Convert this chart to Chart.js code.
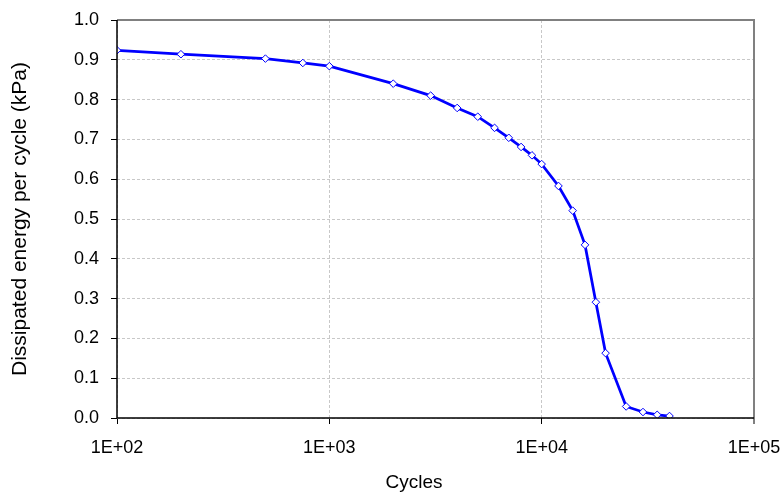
<!DOCTYPE html>
<html>
<head>
<meta charset="utf-8">
<script src="https://cdn.jsdelivr.net/npm/chart.js@4/dist/chart.umd.min.js"></script>
<style>
    html, body { margin: 0; padding: 0; background: #fff; }
    #wrap { width: 784px; height: 495px; }
</style>
</head>
<body>
<div id="wrap"><canvas id="energyChart"></canvas></div>
<script>
// datos
const cycles = [100, 200, 500, 750, 1000, 2000, 3000, 4000, 5000, 6000, 7000, 8000, 9000, 10000,
    12000, 14000, 16000, 18000, 20000, 25000, 30000, 35000, 40000];
const energy = [0.924, 0.914, 0.903, 0.892, 0.884, 0.840, 0.810, 0.779, 0.757, 0.729, 0.704, 0.681, 0.660, 0.638,
    0.583, 0.521, 0.435, 0.291, 0.163, 0.029, 0.015, 0.008, 0.005];
const xTicks = [100, 1000, 10000, 100000];
const yMin = 0, yMax = 1, yStep = 0.1;
const xTitle = 'Cycles';
const yTitle = 'Dissipated energy per cycle (kPa)';

const FONT = "'Liberation Sans', Arial, sans-serif";
const FSIZE = 18;

// marco del area de trazado (gris arriba/derecha, negro izquierda/abajo) y titulo del eje x
const framePlugin = {
    id: 'frame',
    afterDatasetsDraw(chart) {
        const { ctx, chartArea: a } = chart;
        ctx.save();
        ctx.lineWidth = 2;
        ctx.strokeStyle = '#808080';
        ctx.beginPath();
        ctx.moveTo(a.left, a.top);
        ctx.lineTo(a.right, a.top);
        ctx.lineTo(a.right, a.bottom + 6);
        ctx.stroke();
        ctx.lineWidth = 1.5;
        ctx.strokeStyle = '#000';
        ctx.beginPath();
        ctx.moveTo(a.left, a.top);
        ctx.lineTo(a.left, a.bottom);
        ctx.lineTo(a.right, a.bottom);
        ctx.stroke();

        // titulo "Cycles" algo desplazado a la izquierda como en el original
        ctx.fillStyle = '#000';
        ctx.font = '19px ' + FONT;
        ctx.textAlign = 'center';
        ctx.textBaseline = 'middle';
        ctx.fillText(xTitle, 414, 483);
        ctx.restore();
    }
};

const ctx = document.getElementById('energyChart').getContext('2d');

new Chart(ctx, {
    type: 'scatter',
    data: {
        datasets: [{
            label: 'Dissipated energy',
            data: cycles.map((c, i) => ({ x: c, y: energy[i] })),
            showLine: true,
            borderColor: '#0000ff',
            borderWidth: 2.75,
            pointStyle: 'rectRot',
            pointRadius: 3.8,
            pointBackgroundColor: '#ffffff',
            pointBorderColor: '#0000ff',
            pointBorderWidth: 1,
            tension: 0
        }]
    },
    options: {
        responsive: true,
        maintainAspectRatio: false,
        animation: false,
        layout: { padding: { top: 20, right: 30, left: 0, bottom: 0 } },
        plugins: {
            legend: { display: false },
            tooltip: { enabled: false }
        },
        scales: {
            x: {
                type: 'logarithmic',
                min: xTicks[0],
                max: xTicks[xTicks.length - 1],
                afterBuildTicks: function (scale) {
                    scale.ticks = xTicks.map(v => ({ value: v }));
                },
                afterFit: function (scale) {
                    scale.height = 77;
                    scale.paddingLeft = 0;
                    scale.paddingRight = 0;
                },
                ticks: {
                    color: '#000',
                    font: { family: FONT, size: FSIZE },
                    padding: 13,
                    maxRotation: 0,
                    autoSkip: false,
                    callback: function (value) {
                        const e = Math.round(Math.log10(value));
                        return '1E+' + (e < 10 ? '0' + e : e);
                    }
                },
                grid: {
                    color: '#c8c8c8',
                    lineWidth: 1,
                    tickLength: 6,
                    tickColor: '#000',
                    tickWidth: 1
                },
                border: { display: false, dash: [3, 2] },
                title: { display: false }
            },
            y: {
                min: yMin,
                max: yMax,
                afterFit: function (scale) {
                    scale.width = 117;
                    scale.paddingTop = 0;
                    scale.paddingBottom = 0;
                },
                ticks: {
                    stepSize: yStep,
                    color: '#000',
                    font: { family: FONT, size: FSIZE },
                    padding: 12,
                    callback: v => v.toFixed(1)
                },
                grid: {
                    color: '#c8c8c8',
                    lineWidth: 1,
                    tickLength: 6,
                    tickColor: '#000',
                    tickWidth: 1
                },
                border: { display: false, dash: [3, 2] },
                title: {
                    display: true,
                    text: yTitle,
                    color: '#000',
                    font: { family: FONT, size: 21 },
                    padding: { top: 8, bottom: 0 }
                }
            }
        }
    },
    plugins: [framePlugin]
});
</script>
</body>
</html>
